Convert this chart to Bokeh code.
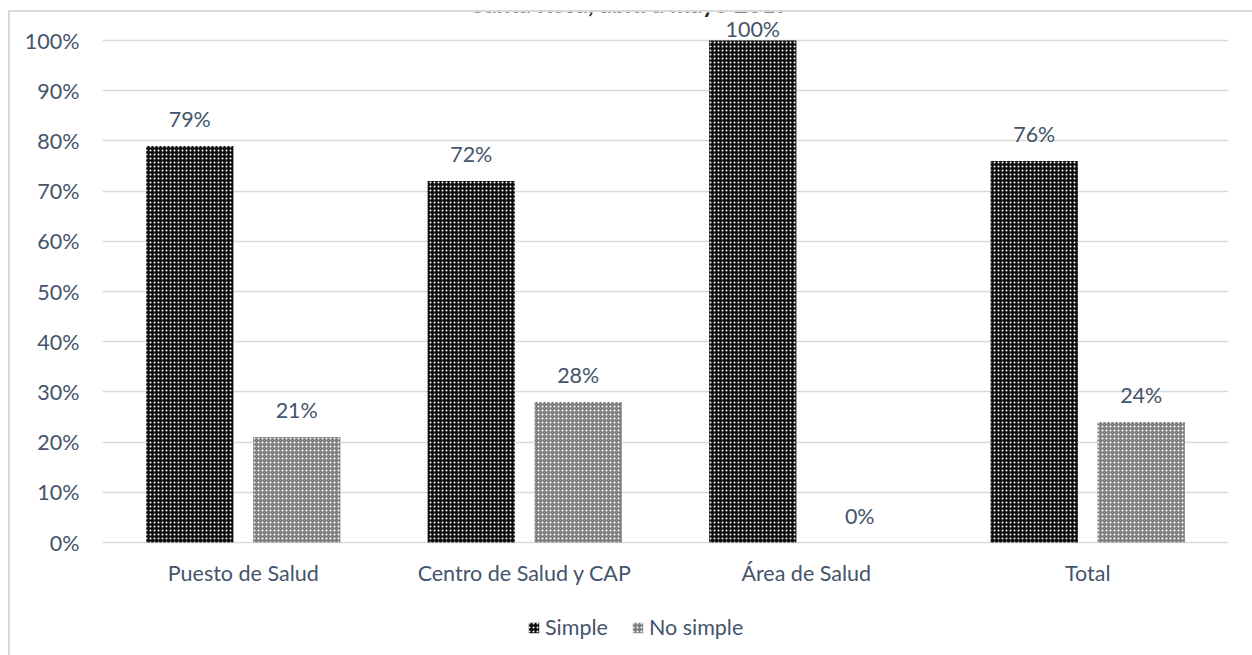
from bokeh.plotting import figure
from bokeh.models import (ColumnDataSource, FactorRange, Range1d, FixedTicker,
                          Legend, LegendItem, Label)
from bokeh.transform import dodge
from bokeh.core.properties import value
from bokeh.embed import file_html
from bokeh.resources import INLINE

# Data
categories = ["Puesto de Salud", "Centro de Salud y CAP", "Área de Salud", "Total"]
simple = [79, 72, 100, 76]
no_simple = [21, 28, 0, 24]
series_names = ["Simple", "No simple"]
y_ticks = [0, 10, 20, 30, 40, 50, 60, 70, 80, 90, 100]
y_tick_labels = ["0%", "10%", "20%", "30%", "40%", "50%", "60%", "70%", "80%", "90%", "100%"]
title_text = "Santa Rosa, abril a mayo 2019"

TEXT = "#44546A"
GRID = "#D9D9D9"
FONT = "Lato"
FS = "21.5px"

W, H = 1252, 655
FRAME_L, FRAME_R, FRAME_T = 102, 1228, 12
Y0, Y100 = 542, 40            # pixel rows of 0% and 100%
px_per_unit = (Y0 - Y100) / 100.0
y_top = (Y0 - FRAME_T) / px_per_unit
y_bottom = -(H - Y0) / px_per_unit   # room under the bars for names and legend


def label_y(v):
    # value label sits just above its bar, kept inside the plotting area
    return min(v + 27 / px_per_unit, 100 + 12 / px_per_unit)


src = ColumnDataSource(data=dict(
    cat=categories,
    simple=simple,
    no_simple=no_simple,
    simple_lbl=[f"{v}%" for v in simple],
    no_simple_lbl=[f"{v}%" for v in no_simple],
    simple_ly=[label_y(v) for v in simple],
    no_simple_ly=[label_y(v) for v in no_simple],
))

# chart-area border (left and top edges visible inside the window)
border_css = """
:host::after {
  content: "";
  position: absolute;
  left: 8px; top: 10px;
  width: 1244px; height: 645px;
  border-left: 2px solid #D9D9D9;
  border-top: 2px solid #D9D9D9;
  box-sizing: border-box;
  pointer-events: none;
}
"""

p = figure(width=W, height=H, x_range=FactorRange(*categories),
           y_range=Range1d(y_bottom, y_top), output_backend="svg", toolbar_location=None,
           min_border_left=FRAME_L, min_border_right=W - FRAME_R,
           min_border_top=FRAME_T, min_border_bottom=0,
           stylesheets=[border_css])
p.outline_line_color = None
p.background_fill_color = "white"
p.border_fill_color = "white"

OFF, BW = 0.19, 0.31
r_simple = p.vbar(x=dodge("cat", -OFF, range=p.x_range), top="simple", bottom=0, width=BW,
                  source=src, fill_color="#0d0d0d", line_color=None,
                  hatch_pattern="dot", hatch_color="white", hatch_scale=4, hatch_weight=2.5)
r_no = p.vbar(x=dodge("cat", OFF, range=p.x_range), top="no_simple", bottom=0, width=BW,
              source=src, fill_color="#7f7f7f", line_color=None,
              hatch_pattern="dot", hatch_color="white", hatch_scale=4, hatch_weight=2.5)

for xoff, ycol, tcol in [(-OFF, "simple_ly", "simple_lbl"), (OFF, "no_simple_ly", "no_simple_lbl")]:
    p.text(x=dodge("cat", xoff, range=p.x_range), y=ycol, text=tcol, source=src,
           text_align="center", text_baseline="middle",
           text_font=value(FONT), text_font_size=FS, text_color=TEXT)

# Axes: category names hang from the 0% line
p.yaxis.ticker = FixedTicker(ticks=y_ticks)
p.yaxis.major_label_overrides = {t: l for t, l in zip(y_ticks, y_tick_labels)}
p.yaxis.axis_line_color = None
p.yaxis.major_tick_line_color = None
p.yaxis.minor_tick_line_color = None
p.yaxis.major_label_standoff = 17
p.xaxis.fixed_location = 0
p.xaxis.axis_line_color = None
p.xaxis.major_tick_line_color = None
p.xaxis.major_label_standoff = 11
for ax in (p.xaxis, p.yaxis):
    ax.major_label_text_font = FONT
    ax.major_label_text_font_size = FS
    ax.major_label_text_color = TEXT
p.xgrid.grid_line_color = None
p.ygrid.grid_line_color = GRID
p.ygrid.grid_line_width = 1.3

# Legend under the category names
legend = Legend(items=[LegendItem(label=series_names[0], renderers=[r_simple]),
                       LegendItem(label=series_names[1], renderers=[r_no])],
                orientation="horizontal", location=(425, 15),
                glyph_width=13, glyph_height=13, label_standoff=5, spacing=23,
                padding=0, margin=0, border_line_color=None, background_fill_alpha=0,
                label_text_font=FONT, label_text_font_size=FS, label_text_color=TEXT)
p.add_layout(legend, "center")

# Title, mostly above the top edge of the window
p.add_layout(Label(x=630, y=3, x_units="canvas", y_units="canvas", text=title_text,
                   text_align="center", text_baseline="alphabetic",
                   text_font=FONT, text_font_size="24px", text_font_style="bold",
                   text_color="#222222"))

open("out.html", "w").write(file_html(p, INLINE))
